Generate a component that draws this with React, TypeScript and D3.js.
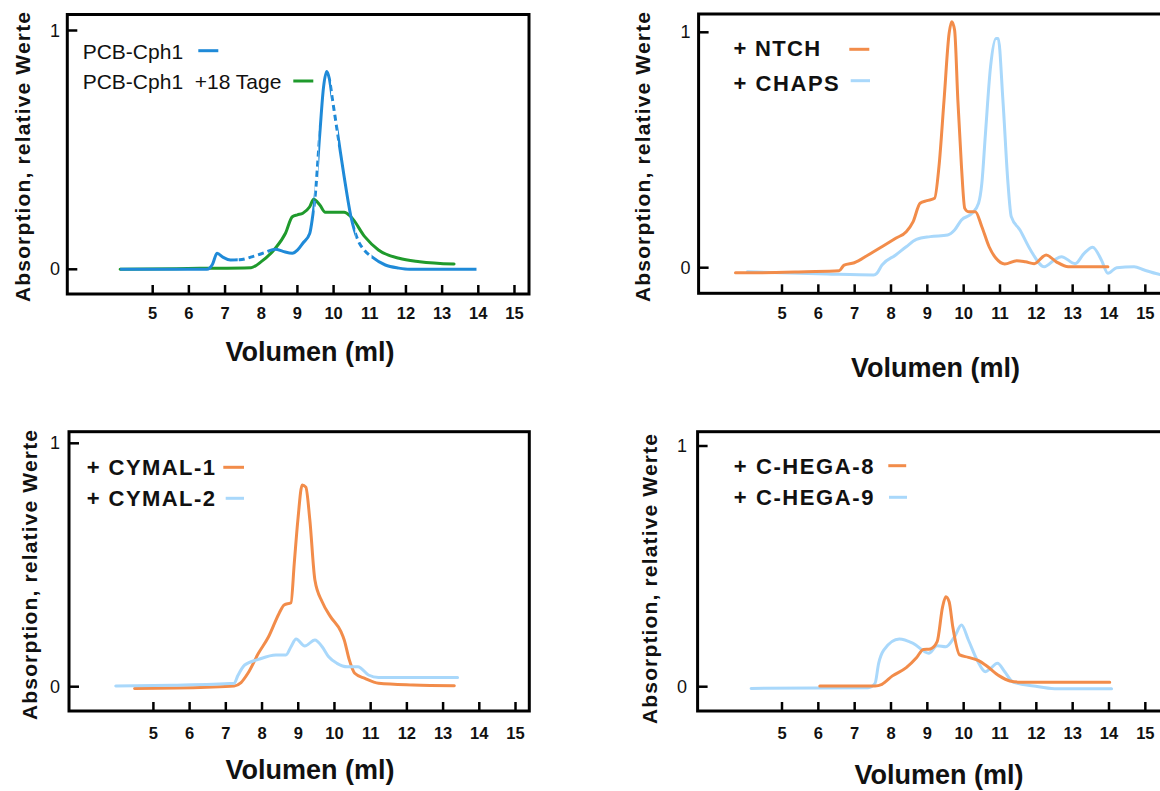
import React from 'react';
import * as d3 from 'd3';

type Pt = [number, number];

// Elution volume ticks (ml) and relative absorption ticks
const volumeTicks = [5, 6, 7, 8, 9, 10, 11, 12, 13, 14, 15];
const absorptionTicks = [0, 1];

// Panel A: PCB-Cph1 fresh vs. after 18 days
const pcbCph1: Pt[] = [
  [4.1, 0], [6.5, 0], [6.65, 0.02], [6.78, 0.067], [6.95, 0.05], [7.15, 0.039], [7.4, 0.04],
  [7.8, 0.055], [8.1, 0.07], [8.39, 0.084], [8.6, 0.075], [8.86, 0.067], [9.0, 0.08],
  [9.15, 0.109], [9.34, 0.15], [9.42, 0.22], [9.48, 0.29], [9.62, 0.57], [9.72, 0.76],
  [9.81, 0.828], [9.88, 0.8], [9.96, 0.72], [10.14, 0.54], [10.29, 0.39], [10.48, 0.22],
  [10.67, 0.123], [10.85, 0.08], [11.05, 0.053], [11.43, 0.018], [11.8, 0.005], [12.1, 0],
  [13.95, 0],
];
// stretches of the PCB-Cph1 trace that are drawn broken (ml ranges)
const pcbCph1BrokenSpans: Pt[] = [[7.35, 8.3], [9.47, 9.58], [9.93, 10.12], [10.6, 11.05]];

const pcbCph1Aged: Pt[] = [
  [4.1, 0], [6.3, 0.004], [7.72, 0.007], [8.0, 0.032], [8.39, 0.088], [8.67, 0.151],
  [8.86, 0.22], [9.0, 0.228], [9.15, 0.235], [9.34, 0.262], [9.45, 0.293], [9.62, 0.269],
  [9.77, 0.239], [10.29, 0.239], [10.48, 0.22], [10.86, 0.137], [11.24, 0.081],
  [11.81, 0.046], [12.38, 0.032], [13.33, 0.022],
];

// Panel B: NTCH and CHAPS
const ntch: Pt[] = [
  [3.72, -0.021], [4.43, -0.021], [5.66, -0.017], [6.57, -0.013], [6.71, 0.011], [6.99, 0.021],
  [7.37, 0.054], [7.75, 0.089], [8.13, 0.125], [8.42, 0.153], [8.61, 0.196], [8.8, 0.274],
  [8.99, 0.285], [9.2, 0.295], [9.32, 0.429], [9.46, 0.712], [9.6, 0.996], [9.67, 1.045],
  [9.75, 1.01], [9.84, 0.712], [9.94, 0.429], [10.03, 0.252], [10.13, 0.238], [10.32, 0.238],
  [10.5, 0.174], [10.7, 0.089], [10.89, 0.04], [11.13, 0.016], [11.46, 0.03], [11.7, 0.025],
  [11.94, 0.017], [12.27, 0.054], [12.55, 0.025], [12.88, 0.004], [13.97, 0.004],
];
const chaps: Pt[] = [
  [4.05, -0.017], [6.23, -0.027], [7.52, -0.031], [7.61, -0.024], [7.75, 0.011], [8.13, 0.054],
  [8.42, 0.089], [8.7, 0.12], [9.08, 0.132], [9.56, 0.139], [9.75, 0.16], [9.94, 0.203],
  [10.23, 0.231], [10.41, 0.274], [10.5, 0.358], [10.6, 0.571], [10.74, 0.854], [10.89, 0.974],
  [10.95, 0.974], [11.08, 0.712], [11.22, 0.358], [11.31, 0.217], [11.55, 0.16], [11.84, 0.075],
  [12.22, 0.004], [12.5, 0.033], [12.69, 0.047], [13.07, 0.017], [13.31, 0.06], [13.55, 0.087],
  [13.79, 0.033], [13.97, -0.024], [14.21, 0], [14.69, 0.004], [14.97, -0.01], [15.35, -0.027],
  [15.8, -0.035],
];

// Panel C: CYMAL-1 and CYMAL-2
const cymal1: Pt[] = [
  [4.48, -0.007], [6.47, -0.002], [7.23, 0.003], [7.42, 0.017], [7.61, 0.055], [7.9, 0.137],
  [8.18, 0.205], [8.47, 0.301], [8.61, 0.336], [8.8, 0.345], [8.89, 0.507], [8.99, 0.685],
  [9.11, 0.829], [9.21, 0.82], [9.32, 0.685], [9.46, 0.438], [9.66, 0.349], [9.89, 0.288],
  [10.18, 0.226], [10.27, 0.192], [10.41, 0.11], [10.56, 0.055], [10.84, 0.034],
  [11.22, 0.014], [12.17, 0.007], [13.31, 0.004],
];
const cymal2: Pt[] = [
  [3.96, 0.003], [5.52, 0.006], [7.23, 0.014], [7.33, 0.045], [7.52, 0.089], [7.9, 0.112],
  [8.38, 0.13], [8.66, 0.13], [8.8, 0.164], [8.94, 0.196], [9.18, 0.167], [9.46, 0.192],
  [9.66, 0.164], [9.84, 0.123], [10.07, 0.096], [10.36, 0.082], [10.65, 0.082], [10.94, 0.048],
  [11.22, 0.038], [13.4, 0.038],
];

// Panel D: C-HEGA-8 and C-HEGA-9
const chega8: Pt[] = [
  [6.04, 0.003], [7.56, 0.003], [7.75, 0.01], [8.04, 0.045], [8.42, 0.079], [8.7, 0.12],
  [8.89, 0.155], [9.08, 0.157], [9.27, 0.187], [9.42, 0.332], [9.51, 0.374], [9.6, 0.353],
  [9.7, 0.249], [9.89, 0.132], [10.13, 0.122], [10.41, 0.108], [10.6, 0.09], [10.98, 0.045],
  [11.27, 0.024], [11.55, 0.019], [14.02, 0.019],
];
const chega9: Pt[] = [
  [4.15, -0.007], [7.37, -0.004], [7.56, 0.014], [7.66, 0.097], [7.8, 0.152], [8.23, 0.198],
  [8.61, 0.18], [9.04, 0.139], [9.27, 0.17], [9.51, 0.166], [9.75, 0.208], [9.94, 0.256],
  [10.13, 0.194], [10.37, 0.111], [10.6, 0.062], [10.74, 0.076], [10.93, 0.097], [11.13, 0.062],
  [11.36, 0.019], [11.93, 0.003], [12.5, -0.008], [14.07, -0.008],
];

const FONT = "'Liberation Sans', Arial, Helvetica, sans-serif";
const BLUE = '#1f8ad8';
const GREEN = '#1f9a2c';
const ORANGE = '#f28c4a';
const LIGHT_BLUE = '#a9d8fb';
const LINE_W = 3;

type Series = { data: Pt[]; color: string; broken?: Pt[] };
type LegendRow = { text: string; cy: number; textWidth?: number; swatch: [number, number, number]; color: string };
type PanelCfg = {
  id: string;
  frame: { left: number; top: number; right: number; bottom: number };
  xRange: [number, number]; // pixel positions of 5 ml and 14 ml
  yRange: [number, number]; // pixel positions of 0 and 1
  yLabel: { cx: number; cy: number };
  yTickX: number;
  xTickY: number;
  xLabel: { cx: number; cy: number };
  legendX: number;
  legendBold: boolean;
  legend: LegendRow[];
  series: Series[];
};

const panels: PanelCfg[] = [
  {
    id: 'a',
    frame: { left: 67.3, top: 14.5, right: 529, bottom: 294 },
    xRange: [152.7, 478.3],
    yRange: [269.3, 30.5],
    yLabel: { cx: 22.4, cy: 157 },
    yTickX: 55,
    xTickY: 313,
    xLabel: { cx: 310, cy: 352 },
    legendX: 82.7,
    legendBold: false,
    legend: [
      { text: 'PCB-Cph1', cy: 51.7, swatch: [198.3, 218.3, 50.7], color: BLUE },
      { text: 'PCB-Cph1  +18 Tage', cy: 81.7, swatch: [293.3, 313.3, 81], color: GREEN },
    ],
    series: [
      { data: pcbCph1Aged, color: GREEN },
      { data: pcbCph1, color: BLUE, broken: pcbCph1BrokenSpans },
    ],
  },
  {
    id: 'b',
    frame: { left: 698.6, top: 14, right: 1175, bottom: 293.3 },
    xRange: [782, 1109],
    yRange: [267.7, 32.3],
    yLabel: { cx: 642.4, cy: 157 },
    yTickX: 685.5,
    xTickY: 313.3,
    xLabel: { cx: 935.5, cy: 368 },
    legendX: 733.5,
    legendBold: true,
    legend: [
      { text: '+ NTCH', cy: 48.3, textWidth: 86.7, swatch: [849.3, 869.3, 49.3], color: ORANGE },
      { text: '+ CHAPS', cy: 83.3, textWidth: 105.3, swatch: [850.7, 870, 80.7], color: LIGHT_BLUE },
    ],
    series: [
      { data: chaps, color: LIGHT_BLUE },
      { data: ntch, color: ORANGE },
    ],
  },
  {
    id: 'c',
    frame: { left: 69, top: 431.7, right: 529.3, bottom: 711 },
    xRange: [153.4, 479.3],
    yRange: [686.7, 443.3],
    yLabel: { cx: 29.3, cy: 575 },
    yTickX: 55,
    xTickY: 733.3,
    xLabel: { cx: 310, cy: 770 },
    legendX: 86.7,
    legendBold: true,
    legend: [
      { text: '+ CYMAL-1', cy: 467.3, textWidth: 128.3, swatch: [223.3, 244, 467.3], color: ORANGE },
      { text: '+ CYMAL-2', cy: 498.3, textWidth: 128.3, swatch: [225.7, 244, 498.3], color: LIGHT_BLUE },
    ],
    series: [
      { data: cymal1, color: ORANGE },
      { data: cymal2, color: LIGHT_BLUE },
    ],
  },
  {
    id: 'd',
    frame: { left: 697.6, top: 431.7, right: 1175, bottom: 711 },
    xRange: [782, 1109],
    yRange: [686.7, 446],
    yLabel: { cx: 649.3, cy: 579 },
    yTickX: 682,
    xTickY: 733.3,
    xLabel: { cx: 939, cy: 775 },
    legendX: 733.8,
    legendBold: true,
    legend: [
      { text: '+ C-HEGA-8', cy: 466.7, textWidth: 139.6, swatch: [888.3, 906.2, 465.7], color: ORANGE },
      { text: '+ C-HEGA-9', cy: 497.3, textWidth: 139.6, swatch: [889, 907, 497.3], color: LIGHT_BLUE },
    ],
    series: [
      { data: chega9, color: LIGHT_BLUE },
      { data: chega8, color: ORANGE },
    ],
  },
];

function Panel({ cfg }: { cfg: PanelCfg }) {
  const x = d3.scaleLinear().domain([5, 14]).range(cfg.xRange);
  const y = d3.scaleLinear().domain([0, 1]).range(cfg.yRange);
  const line = d3
    .line<Pt>()
    .x((d) => x(d[0]))
    .y((d) => y(d[1]))
    .curve(d3.curveMonotoneX);
  const { left, top, right, bottom } = cfg.frame;

  return (
    <g>
      {cfg.series.map((s, i) => {
        const d = line(s.data) || '';
        if (!s.broken) {
          return (
            <path key={i} d={d} fill="none" stroke={s.color} strokeWidth={LINE_W}
              strokeLinejoin="round" strokeLinecap="round" />
          );
        }
        // solid everywhere except the broken spans, which get a dash pattern
        const x0 = x(s.data[0][0]) - 5;
        const x1 = x(s.data[s.data.length - 1][0]) + 5;
        const solidRanges: Pt[] = [];
        let cur = x0;
        s.broken.forEach(([a, b]) => {
          solidRanges.push([cur, x(a)]);
          cur = x(b);
        });
        solidRanges.push([cur, x1]);
        const solidId = `solid-${cfg.id}-${i}`;
        const dashId = `dash-${cfg.id}-${i}`;
        return (
          <g key={i}>
            <clipPath id={solidId}>
              {solidRanges.map(([a, b], k) => (
                <rect key={k} x={a} y={top} width={b - a} height={bottom - top} />
              ))}
            </clipPath>
            <clipPath id={dashId}>
              {s.broken.map(([a, b], k) => (
                <rect key={k} x={x(a)} y={top} width={x(b) - x(a)} height={bottom - top} />
              ))}
            </clipPath>
            <path d={d} fill="none" stroke={s.color} strokeWidth={LINE_W} strokeLinejoin="round"
              clipPath={`url(#${solidId})`} />
            <path d={d} fill="none" stroke={s.color} strokeWidth={LINE_W} strokeDasharray="6 4"
              clipPath={`url(#${dashId})`} />
          </g>
        );
      })}

      {/* frame */}
      <rect x={left} y={top} width={right - left} height={bottom - top} fill="none"
        stroke="#000" strokeWidth={3} />

      {/* x ticks */}
      {volumeTicks.map((t) => (
        <g key={t}>
          <line x1={x(t)} x2={x(t)} y1={bottom} y2={bottom - 9} stroke="#000" strokeWidth={2.5} />
          <text x={x(t)} y={cfg.xTickY} textAnchor="middle" dominantBaseline="central"
            fontFamily={FONT} fontSize={16.5} fontWeight="bold" fill="#111">{t}</text>
        </g>
      ))}

      {/* y ticks */}
      {absorptionTicks.map((t) => (
        <g key={t}>
          <line x1={left} x2={left + 10} y1={y(t)} y2={y(t)} stroke="#000" strokeWidth={2.5} />
          <text x={cfg.yTickX} y={y(t)} textAnchor="middle" dominantBaseline="central"
            fontFamily={FONT} fontSize={18} fill="#111">{t}</text>
        </g>
      ))}

      {/* axis titles */}
      <text transform={`translate(${cfg.yLabel.cx},${cfg.yLabel.cy}) rotate(-90)`} textAnchor="middle"
        dominantBaseline="central" fontFamily={FONT} fontSize={21} fontWeight="bold" fill="#111"
        textLength={290} lengthAdjust="spacing">
        Absorption, relative Werte
      </text>
      <text x={cfg.xLabel.cx} y={cfg.xLabel.cy} textAnchor="middle" dominantBaseline="central"
        fontFamily={FONT} fontSize={27} fontWeight="bold" fill="#111">
        Volumen (ml)
      </text>

      {/* legend */}
      {cfg.legend.map((r) => (
        <g key={r.text}>
          <text x={cfg.legendX} y={r.cy} dominantBaseline="central" fontFamily={FONT}
            fontSize={cfg.legendBold ? 22 : 21} fontWeight={cfg.legendBold ? 'bold' : 'normal'}
            fill="#111" style={{ whiteSpace: 'pre' }}
            {...(r.textWidth ? { textLength: r.textWidth, lengthAdjust: 'spacing' } : {})}>
            {r.text}
          </text>
          <line x1={r.swatch[0]} x2={r.swatch[1]} y1={r.swatch[2]} y2={r.swatch[2]}
            stroke={r.color} strokeWidth={3} />
        </g>
      ))}
    </g>
  );
}

export default function App() {
  return (
    <svg width={1160} height={791} viewBox="0 0 1160 791"
      style={{ position: 'absolute', left: 0, top: 0, background: '#fff' }}>
      <rect x={0} y={0} width={1160} height={791} fill="#fff" />
      {panels.map((p) => (
        <Panel key={p.id} cfg={p} />
      ))}
    </svg>
  );
}
